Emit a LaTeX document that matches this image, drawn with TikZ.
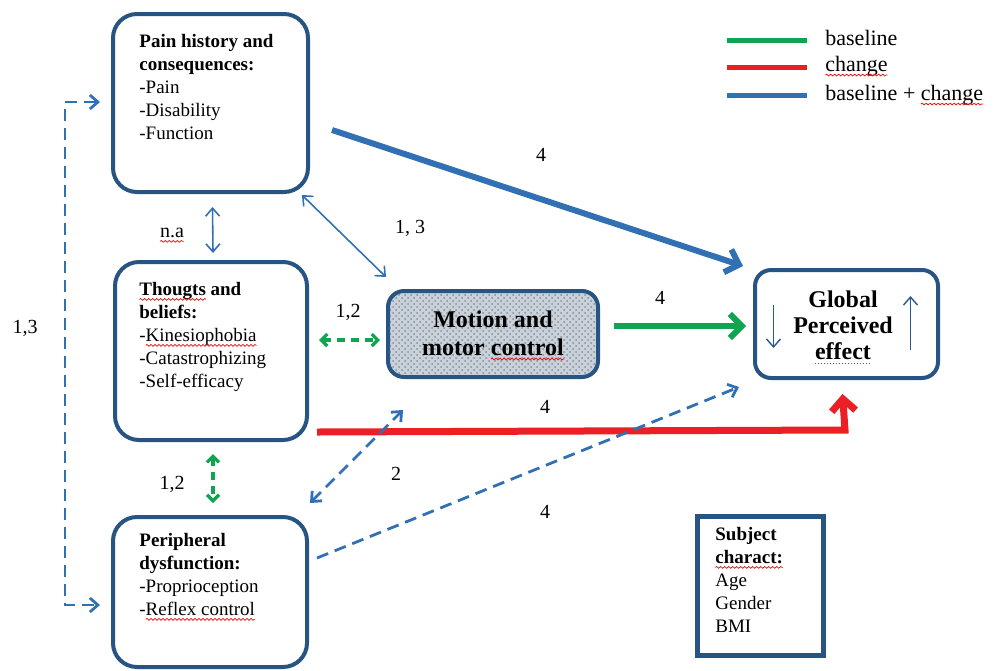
\documentclass[tikz,border=0pt]{standalone}
\usepackage{fontspec}
\setmainfont{Liberation Serif}
\usetikzlibrary{arrows.meta,calc,patterns,decorations.pathmorphing}
\definecolor{boxblue}{RGB}{40,84,132}
\definecolor{arrblue}{RGB}{50,112,180}
\definecolor{arrgreen}{RGB}{16,164,80}
\definecolor{arrred}{RGB}{236,32,36}
\definecolor{mfill}{RGB}{200,210,220}
\newcommand\spellwave[1]{\tikz[baseline=(sw.base)]{\node[inner sep=0pt,outer sep=0pt,anchor=base,minimum width=0pt,minimum height=0pt,draw=none,rounded corners=0pt,font=] (sw) {#1};\draw[overlay,red,line width=0.35pt,decorate,decoration={snake,amplitude=0.45pt,segment length=2pt}] ([yshift=-1.9pt]sw.base west) -- ([yshift=-1.9pt]sw.base east);}}
\newcommand\gramdots[1]{\tikz[baseline=(gw.base)]{\node[inner sep=0pt,outer sep=0pt,anchor=base,minimum width=0pt,minimum height=0pt,draw=none,rounded corners=0pt,font=] (gw) {#1};\draw[overlay,arrgreen!80!black,line width=0.6pt,dash pattern=on 0.6pt off 0.9pt] ([yshift=-2pt]gw.base west) -- ([yshift=-2pt]gw.base east);}}
\begin{document}
\begin{tikzpicture}[x=0.5pt,y=-0.5pt,
  box/.style={draw=boxblue,line width=2pt,rounded corners=12pt,inner sep=0pt},
  sbox/.style={draw=boxblue,line width=2pt,rounded corners=8pt,inner sep=0pt},
  btxt/.style={anchor=north west,inner sep=0pt,align=left,font=\fontsize{9.5}{11.5}\selectfont},
  lbl/.style={inner sep=0pt,font=\fontsize{10}{12}\selectfont},
  thinb/.style={draw=arrblue,line width=0.8pt,{Straight Barb[length=4pt,width=7pt]}-{Straight Barb[length=4pt,width=7pt]}},
  dashb/.style={draw=arrblue,line width=1.4pt,dash pattern=on 6pt off 3.5pt},
  dashg/.style={draw=arrgreen,line width=1.6pt,dash pattern=on 4pt off 3pt,{Straight Barb[length=3pt,width=6pt]}-{Straight Barb[length=3pt,width=6pt]}},
  thick/.style={line width=3pt,-{Straight Barb[length=6pt,width=12pt]}},
  legline/.style={line width=2.5pt},
  legtxt/.style={anchor=west,inner sep=0pt,font=\fontsize{11}{13}\selectfont}
]
\useasboundingbox (0,0) rectangle (1000,670);

% boxes
\node[box,minimum width=97.5pt,minimum height=89pt] (pain) at (210.5,103) {};
\node[btxt] (paintxt) at (139,34) {\textbf{Pain history and}\\\textbf{consequences:}\\-Pain\\-Disability\\-Function};

\node[box,minimum width=96pt,minimum height=89pt] (thoughts) at (211,351) {};
\node[btxt] (thoughtstxt) at (139,282) {\textbf{\spellwave{Thougts} and}\\\textbf{beliefs:}\\-\spellwave{Kinesiophobia}\\-Catastrophizing\\-Self-efficacy};

\node[box,minimum width=97pt,minimum height=75pt] (periph) at (210,592) {};
\node[btxt] (periphtxt) at (139,533) {\textbf{Peripheral}\\\textbf{dysfunction:}\\-Proprioception\\-\spellwave{Reflex control}};

\node[sbox,minimum width=105pt,minimum height=43pt,
  preaction={fill=mfill},pattern=crosshatch dots,pattern color=black!45] (motion) at (493,334) {};
\node[inner sep=0pt,align=center,font=\bfseries\fontsize{12}{14}\selectfont] (motiontxt) at (493,333) {Motion and\\motor \spellwave{control}};

\node[sbox,minimum width=91.5pt,minimum height=54pt] (global) at (846.5,324) {};
\node[inner sep=0pt,align=center,font=\bfseries\fontsize{12}{13}\selectfont] (globaltxt) at (843,325) {Global\\Perceived\\\gramdots{effect}};
\coordinate (gd1) at ([shift={(-73,-19)}]global.center);
\coordinate (gd2) at ([shift={(-73,24)}]global.center);
\coordinate (gu1) at ([shift={(64,26)}]global.center);
\coordinate (gu2) at ([shift={(64,-28)}]global.center);
\draw[draw=arrblue!80!black,line width=0.7pt,-{Straight Barb[length=4pt,width=7pt]}] (gd1) -- (gd2);
\draw[draw=arrblue!80!black,line width=0.7pt,-{Straight Barb[length=4pt,width=7pt]}] (gu1) -- (gu2);

\node[draw=boxblue,line width=2.5pt,minimum width=63pt,minimum height=69.5pt,inner sep=0pt] (subj) at (760,585.5) {};
\node[btxt] (subjtxt) at (715,527) {\textbf{Subject}\\\textbf{\spellwave{charact:}}\\Age\\Gender\\BMI};

% legend
\coordinate (lg1a) at (727,40); \coordinate (lg1b) at (807,40);
\coordinate (lg2a) at (727,67); \coordinate (lg2b) at (807,67);
\coordinate (lg3a) at (727,95); \coordinate (lg3b) at (807,95);
\draw[legline,arrgreen] (lg1a) -- (lg1b);
\draw[legline,arrred] (lg2a) -- (lg2b);
\draw[legline,arrblue] (lg3a) -- (lg3b);
\node[legtxt] (leg1) at (825,38) {baseline};
\node[legtxt] (leg2) at (825,66) {\spellwave{change}};
\node[legtxt] (leg3) at (825,95) {baseline + \spellwave{change}};

% connectors
\draw[thick,arrblue] ([shift={(22,27)}]pain.east) -- ([shift={(-10,-2)}]global.north west);
\node[lbl] (l1) at (541,155) {4};

\draw[thinb] ([shift={(-8,1)}]pain.south east) -- ([shift={(0,-12)}]motion.north west);
\node[lbl] (l2) at (410,228) {1, 3};

\draw[thinb] ([shift={(2,13)}]pain.south) -- ([shift={(2,-7)}]thoughts.north);
\node[lbl] (l3) at (172,233) {\spellwave{n.a}};

\draw[dashg] ([shift={(10,-11)}]thoughts.east) -- ([shift={(-6,6)}]motion.west);
\node[lbl] (l4) at (348,312) {1,2};

\draw[thick,arrgreen] ([shift={(14,-8)}]motion.east) -- ([shift={(-7,2)}]global.west);
\node[lbl] (l5) at (660,298) {4};

\draw[arrred,line width=3.5pt,-{Straight Barb[length=6pt,width=12pt]}] ([shift={(8,-10)}]thoughts.south east) -- ++(528,-2) -- ([shift={(-4,14)}]global.south);
\node[lbl] (l6) at (545,407) {4};

\draw[dashg] ([shift={(2,12)}]thoughts.south) -- ([shift={(3,-12)}]periph.north);
\node[lbl] (l7) at (172,484) {1,2};

\draw[dashb,{Straight Barb[length=4pt,width=7pt]}-{Straight Barb[length=4pt,width=7pt]}] ([shift={(1,-12)}]periph.north east) -- ([shift={(17,31)}]motion.south west);
\node[lbl] (l8) at (396,474) {2};

\draw[dashb,-{Straight Barb[length=4pt,width=7pt]}] ([shift={(8,-34)}]periph.east) -- ([shift={(-14,7)}]global.south west);
\node[lbl] (l9) at (545,512) {4};

\draw[dashb,{Straight Barb[length=4pt,width=7pt]}-{Straight Barb[length=4pt,width=7pt]}] ([shift={(-11,-1)}]pain.west) -| (65,350) |- ([shift={(-11,13)}]periph.west);
\node[lbl] (l10) at (25,328) {1,3};
\end{tikzpicture}
\end{document}
